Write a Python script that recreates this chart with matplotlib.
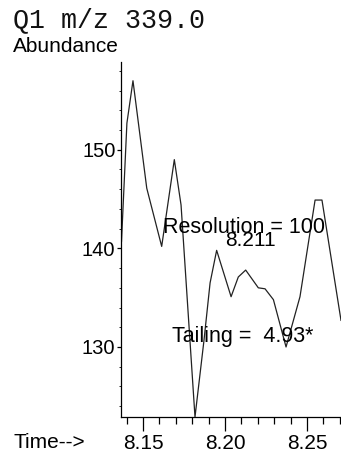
import matplotlib
matplotlib.use("Agg")
import matplotlib.pyplot as plt
from matplotlib.ticker import MultipleLocator

# trace
time = [8.1369, 8.1402, 8.1439, 8.1523, 8.1614, 8.1691, 8.1732, 8.1817,
        8.1872, 8.1909, 8.1949, 8.2037, 8.2081, 8.2126, 8.2203, 8.2244,
        8.2295, 8.2372, 8.2457, 8.2549, 8.2591, 8.2707]
abundance = [140.7, 152.7, 157.0, 146.1, 140.2, 149.0, 144.4, 122.9,
             130.7, 136.5, 139.8, 135.1, 137.1, 137.8, 136.0, 135.9,
             134.8, 130.0, 135.1, 144.9, 144.9, 132.7]

x_ticks = [8.15, 8.20, 8.25]
x_labels = ["8.15", "8.20", "8.25"]
y_ticks = [130, 140, 150]

title = "Q1 m/z 339.0"
res_text = "Resolution = 100"
rt_text = "8.211"
tail_text = "Tailing =  4.93*"

plt.rcParams['font.family'] = ['Liberation Sans', 'DejaVu Sans']

fig = plt.figure(figsize=(3.41, 4.54), dpi=100)
ax = fig.add_axes([121 / 341, 1 - 417 / 454, 1 - 121 / 341, (417 - 62) / 454])

ax.plot(time, abundance, color='#222222', lw=0.9)

ax.set_xlim(8.1366, 8.2707)
ax.set_ylim(122.9, 158.9)

ax.spines['top'].set_visible(False)
ax.spines['right'].set_visible(False)
ax.spines['left'].set_linewidth(0.9)
ax.spines['bottom'].set_linewidth(0.9)

ax.set_xticks(x_ticks)
ax.set_xticklabels(x_labels)
ax.xaxis.set_minor_locator(MultipleLocator(0.01))
ax.set_yticks(y_ticks)
ax.yaxis.set_minor_locator(MultipleLocator(2))

ax.tick_params(axis='x', which='major', length=10, width=0.9, labelsize=15, pad=2)
ax.tick_params(axis='x', which='minor', length=5, width=0.9)
ax.tick_params(axis='y', which='major', length=3, width=0.9, labelsize=14.5, pad=1)
ax.tick_params(axis='y', which='minor', length=1.5, width=0.6)

ax.text(8.1620, 142.1, res_text, fontsize=15.5, va='center', ha='left')
ax.text(8.2157, 140.8, rt_text, fontsize=15, va='center', ha='center')
ax.text(8.1677, 131.1, tail_text, fontsize=15.5, va='center', ha='left')

fig.text(13 / 341, 1 - 20 / 454, title, family='Liberation Mono', fontsize=19.2,
         va='center', ha='left', color='#111111')
fig.text(13 / 341, 1 - 46 / 454, "Abundance", fontsize=15, va='center', ha='left')
fig.text(13 / 341, 1 - 442 / 454, "Time-->", fontsize=15, va='center', ha='left')

fig.savefig("out.png", dpi=100)
